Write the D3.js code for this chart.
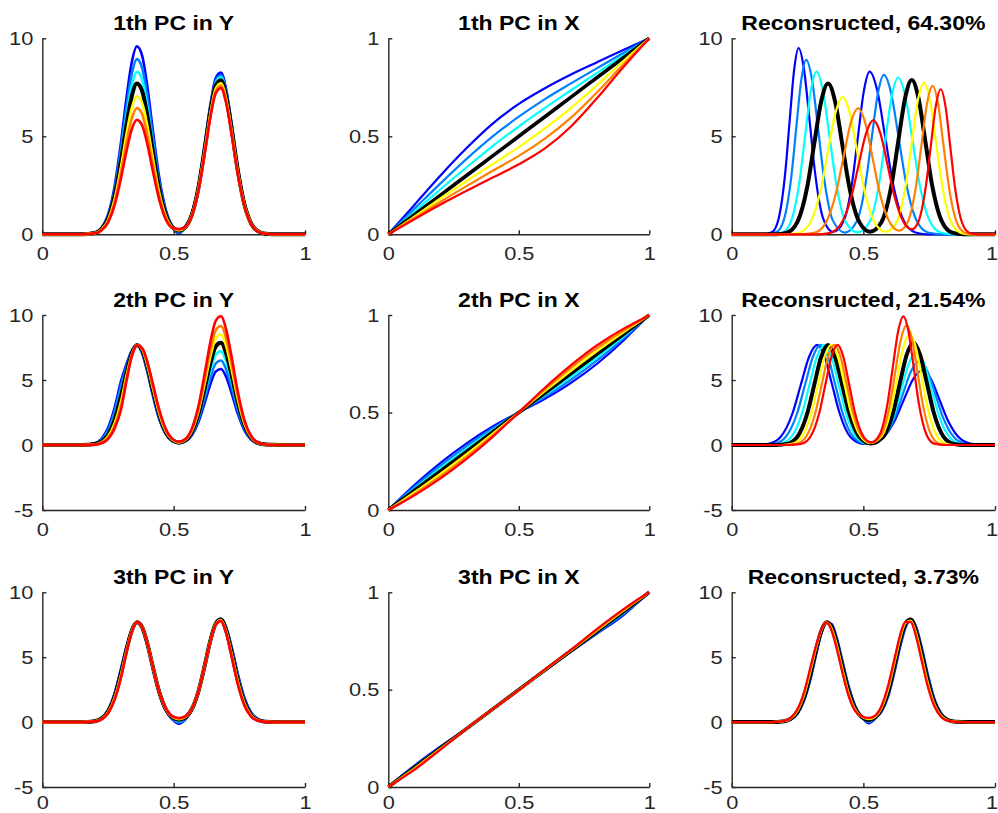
<!DOCTYPE html>
<html><head><meta charset="utf-8">
<script src="https://cdn.jsdelivr.net/npm/d3@7"></script>
<style>body{margin:0;background:#fff} svg{display:block}</style>
</head><body>
<svg id="chart" width="998" height="813"></svg>
<script>
// ---------------- DATA ----------------
const titles = [
  ["1th PC in Y", "1th PC in X", "Reconsructed, 64.30%"],
  ["2th PC in Y", "2th PC in X", "Reconsructed, 21.54%"],
  ["3th PC in Y", "3th PC in X", "Reconsructed, 3.73%"]
];
const seriesNames = ["-3sd", "-2sd", "-1sd", "mean", "+1sd", "+2sd", "+3sd"];
const xTicks = [0, 0.5, 1];
const yTicksAmpTop = [0, 5, 10];
const yTicksAmp = [-5, 0, 5, 10];
const yTicksWarp = [0, 0.5, 1];

// common x grid for the amplitude (Y) panels
const gridAmp = [0,.15,.2,.225,.25,.275,.3,.32,.34,.36,.38,.40,.42,.445,.47,.495,.52,.545,.57,.595,.62,.64,.66,.68,.70,.72,.745,.77,.795,.82,.85,.9,1];
// x grids for the warping (X) panels
const gridWarp1 = [0,.1,.2,.3,.4,.5,.6,.7,.8,.9,1];
const gridWarp = [0,.05,.1,.2,.3,.4,.5,.6,.7,.8,.9,.95,1];

const pc1Y = [
  [0,0,0.09,0.32,0.99,2.42,4.74,6.91,8.74,9.59,9.12,7.53,5.39,2.91,1.25,0.40,0.05,0.40,1.08,2.54,4.75,6.62,7.96,8.25,7.39,5.70,3.35,1.56,0.58,0.17,0.03,0,0],
  [0,0,0.08,0.30,0.92,2.25,4.42,6.44,8.15,8.94,8.49,7.02,5.02,2.71,1.16,0.41,0.10,0.38,1.06,2.50,4.66,6.50,7.82,8.11,7.27,5.60,3.29,1.54,0.57,0.17,0.03,0,0],
  [0,0,0.07,0.28,0.85,2.09,4.10,5.97,7.56,8.29,7.88,6.51,4.66,2.51,1.08,0.39,0.15,0.38,1.05,2.47,4.61,6.42,7.72,8.01,7.17,5.53,3.25,1.52,0.56,0.16,0.03,0,0],
  [0,0,0.07,0.26,0.79,1.94,3.80,5.54,7.01,7.69,7.31,6.04,4.32,2.33,1.00,0.37,0.19,0.37,1.03,2.42,4.52,6.30,7.58,7.86,7.04,5.43,3.19,1.49,0.55,0.16,0.03,0,0],
  [0,0,0.06,0.24,0.72,1.78,3.48,5.07,6.42,7.04,6.70,5.53,3.96,2.13,0.92,0.35,0.21,0.36,1.01,2.37,4.43,6.18,7.44,7.71,6.91,5.33,3.13,1.46,0.54,0.16,0.03,0,0],
  [0,0,0.06,0.22,0.66,1.63,3.18,4.64,5.87,6.44,6.13,5.06,3.62,1.95,0.84,0.33,0.24,0.36,0.99,2.34,4.36,6.08,7.31,7.58,6.79,5.24,3.08,1.44,0.53,0.15,0.03,0,0],
  [0,0,0.05,0.20,0.60,1.47,2.89,4.21,5.33,5.84,5.56,4.59,3.28,1.77,0.76,0.33,0.27,0.38,0.98,2.30,4.29,5.98,7.19,7.46,6.68,5.15,3.03,1.41,0.52,0.15,0.03,0,0]
];
const pc2Y = [
  [0,0,0.14,0.48,1.30,2.83,4.93,6.19,7.22,7.66,7.06,5.62,3.88,2.00,0.83,0.29,0.14,0.28,0.77,1.80,3.36,4.69,5.64,5.85,5.24,4.04,2.37,1.11,0.41,0.12,0.02,0,0],
  [0,0,0.12,0.41,1.13,2.55,4.60,6.02,7.17,7.68,7.13,5.75,4.00,2.10,0.88,0.32,0.16,0.31,0.85,2.00,3.74,5.21,6.27,6.50,5.82,4.49,2.64,1.23,0.45,0.13,0.02,0,0],
  [0,0,0.09,0.32,0.93,2.20,4.15,5.76,7.08,7.69,7.23,5.92,4.19,2.23,0.95,0.35,0.17,0.34,0.94,2.22,4.14,5.77,6.94,7.20,6.45,4.97,2.92,1.36,0.50,0.15,0.03,0,0],
  [0,0,0.07,0.26,0.79,1.94,3.80,5.54,7.01,7.69,7.31,6.04,4.32,2.33,1.00,0.37,0.19,0.37,1.03,2.42,4.52,6.30,7.58,7.86,7.04,5.43,3.19,1.49,0.55,0.16,0.03,0,0],
  [0,0,0.05,0.20,0.65,1.65,3.38,5.28,6.92,7.69,7.36,6.14,4.45,2.44,1.06,0.40,0.20,0.40,1.11,2.62,4.89,6.81,8.19,8.50,7.61,5.87,3.45,1.61,0.59,0.17,0.03,0,0],
  [0,0,0.04,0.17,0.55,1.44,3.06,5.07,6.85,7.68,7.40,6.26,4.60,2.57,1.14,0.43,0.23,0.43,1.20,2.82,5.26,7.33,8.82,9.15,8.19,6.32,3.71,1.73,0.64,0.19,0.03,0,0],
  [0,0,0.03,0.13,0.46,1.26,2.76,4.86,6.77,7.66,7.45,6.40,4.78,2.73,1.24,0.47,0.25,0.46,1.30,3.05,5.70,7.94,9.55,9.90,8.87,6.84,4.02,1.88,0.69,0.20,0.04,0,0]
];
const pc3Y = [
  [0,0,0.09,0.32,0.93,2.20,4.15,5.76,7.08,7.69,7.31,6.04,4.30,2.25,0.90,0.22,-0.12,0.22,0.95,2.40,4.52,6.32,7.62,7.95,7.30,5.85,3.65,1.85,0.75,0.25,0.05,0,0],
  [0,0,0.08,0.30,0.88,2.11,4.03,5.69,7.06,7.69,7.31,6.04,4.31,2.28,0.93,0.27,-0.02,0.27,0.98,2.41,4.52,6.31,7.61,7.93,7.21,5.71,3.50,1.73,0.68,0.22,0.04,0,0],
  [0,0,0.08,0.28,0.84,2.03,3.92,5.61,7.03,7.69,7.31,6.04,4.31,2.30,0.97,0.32,0.08,0.32,1.00,2.41,4.52,6.31,7.59,7.92,7.13,5.57,3.34,1.61,0.62,0.19,0.04,0,0],
  [0,0,0.07,0.26,0.79,1.94,3.80,5.54,7.01,7.69,7.31,6.04,4.32,2.33,1.00,0.37,0.19,0.37,1.03,2.42,4.52,6.30,7.58,7.90,7.04,5.43,3.19,1.49,0.55,0.16,0.03,0,0],
  [0,0,0.065,0.24,0.75,1.86,3.69,5.47,6.98,7.69,7.31,6.04,4.32,2.33,1.02,0.40,0.23,0.40,1.04,2.42,4.51,6.28,7.55,7.86,6.98,5.32,3.08,1.41,0.51,0.15,0.03,0,0],
  [0,0,0.06,0.22,0.72,1.78,3.57,5.39,6.96,7.70,7.31,6.04,4.32,2.33,1.03,0.42,0.27,0.42,1.04,2.42,4.51,6.27,7.53,7.82,6.92,5.22,2.96,1.33,0.47,0.14,0.02,0,0],
  [0,0,0.055,0.21,0.68,1.71,3.46,5.32,6.93,7.70,7.31,6.04,4.32,2.33,1.05,0.45,0.32,0.45,1.05,2.42,4.50,6.25,7.50,7.78,6.85,5.10,2.85,1.25,0.43,0.12,0.02,0,0]
];

const pc1X = [
  [0,.15,.30,.44,.565,.665,.745,.815,.878,.94,1],
  [0,.13,.26,.385,.50,.60,.69,.77,.848,.925,1],
  [0,.115,.23,.342,.45,.55,.645,.735,.824,.912,1],
  [0,.1,.2,.3,.4,.5,.6,.7,.8,.9,1],
  [0,.09,.183,.272,.358,.445,.54,.645,.762,.883,1],
  [0,.083,.166,.246,.324,.40,.488,.595,.725,.866,1],
  [0,.077,.152,.222,.29,.357,.438,.55,.695,.852,1]
];
const pc2X = [
  [0,.065,.128,.242,.342,.428,.50,.57,.652,.75,.868,.935,1],
  [0,.06,.119,.228,.328,.419,.50,.58,.668,.767,.879,.94,1],
  [0,.055,.109,.214,.314,.409,.50,.59,.684,.783,.889,.945,1],
  [0,.05,.1,.2,.3,.4,.5,.6,.7,.8,.9,.95,1],
  [0,.045,.091,.187,.287,.392,.50,.609,.714,.815,.91,.955,1],
  [0,.04,.083,.174,.274,.383,.50,.618,.729,.83,.919,.959,1],
  [0,.036,.075,.162,.262,.375,.50,.627,.743,.845,.929,.964,1]
];
const pc3X = [
  [0,.057,.11,.208,.30,.40,.50,.598,.695,.788,.882,.94,1],
  [0,.055,.107,.205,.30,.40,.50,.599,.697,.792,.888,.943,1],
  [0,.052,.103,.203,.30,.40,.50,.60,.698,.796,.894,.947,1],
  [0,.05,.1,.2,.3,.4,.5,.6,.7,.8,.9,.95,1],
  [0,.048,.096,.197,.30,.40,.499,.601,.702,.804,.904,.953,1],
  [0,.046,.093,.195,.30,.40,.498,.603,.703,.808,.908,.955,1],
  [0,.044,.088,.192,.30,.40,.497,.604,.705,.812,.912,.958,1]
];

// reconstructed functions, PC1 (x, y knots)
const rec1 = [
  [[0,0],[.12,0],[.152,.10],[.1775,.76],[.203,3.09],[.22,5.77],[.237,8.38],[.254,9.5],[.275,8.38],[.296,5.77],[.317,3.09],[.3485,.76],[.385,.12],[.425,.66],[.458,2.70],[.48,5.04],[.502,7.32],[.524,8.3],[.553,7.32],[.582,5.04],[.611,2.70],[.6545,.66],[.698,.09],[.74,0],[1,0]],
  [[0,0],[.13,0],[.169,.10],[.1975,.71],[.226,2.89],[.245,5.40],[.264,7.85],[.283,8.9],[.3055,7.85],[.328,5.40],[.3505,2.89],[.384,.71],[.43,.09],[.4745,.65],[.509,2.64],[.532,4.93],[.555,7.17],[.578,8.13],[.606,7.17],[.634,4.93],[.662,2.64],[.704,.65],[.746,.09],[.8,0],[1,0]],
  [[0,0],[.15,0],[.193,.09],[.2252,.66],[.2575,2.70],[.279,5.04],[.3005,7.32],[.322,8.3],[.3465,7.32],[.371,5.04],[.3955,2.70],[.432,.66],[.478,.10],[.524,.64],[.56,2.60],[.584,4.86],[.608,7.06],[.632,8.0],[.659,7.06],[.686,4.86],[.713,2.60],[.7535,.64],[.794,.09],[.84,0],[1,0]],
  [[0,0],[.17,0],[.21,.085],[.249,.62],[.288,2.50],[.314,4.67],[.34,6.79],[.366,7.7],[.3925,6.79],[.419,4.67],[.4455,2.50],[.485,.62],[.525,.13],[.569,.63],[.6075,2.56],[.633,4.78],[.6585,6.94],[.684,7.87],[.7095,6.94],[.735,4.78],[.7605,2.56],[.799,.63],[.837,.087],[.88,0],[1,0]],
  [[0,0],[.21,0],[.256,.077],[.297,.56],[.3385,2.28],[.366,4.25],[.3935,6.17],[.421,7.0],[.4485,6.17],[.476,4.25],[.5035,2.28],[.545,.56],[.585,.13],[.6265,.62],[.661,2.52],[.684,4.70],[.707,6.83],[.73,7.74],[.753,6.83],[.776,4.70],[.799,2.52],[.8335,.62],[.868,.085],[.9,0],[1,0]],
  [[0,0],[.26,0],[.312,.07],[.354,.51],[.396,2.09],[.424,3.90],[.452,5.67],[.48,6.43],[.5075,5.67],[.535,3.90],[.5625,2.09],[.604,.52],[.636,.19],[.6685,.63],[.70,2.46],[.721,4.59],[.742,6.68],[.763,7.57],[.7835,6.68],[.804,4.59],[.8245,2.46],[.855,.61],[.886,.083],[.92,0],[1,0]],
  [[0,0],[.32,0],[.37,.064],[.412,.47],[.454,1.89],[.482,3.54],[.51,5.14],[.538,5.83],[.565,5.14],[.592,3.54],[.619,1.89],[.6595,.48],[.685,.26],[.7085,.63],[.737,2.41],[.756,4.49],[.775,6.53],[.794,7.4],[.812,6.53],[.83,4.49],[.848,2.41],[.875,.59],[.902,.08],[.94,0],[1,0]]
];
// reconstructed functions, PC2 (x, y knots)
const rec2 = [
  [[0,0],[.1,0],[.139,.085],[.1855,.62],[.232,2.5],[.263,4.67],[.294,6.79],[.325,7.7],[.353,6.79],[.381,4.67],[.409,2.5],[.451,.62],[.50,.09],[.5665,.46],[.619,1.87],[.654,3.49],[.689,5.07],[.724,5.75],[.7565,5.07],[.789,3.49],[.8215,1.87],[.87,.46],[.919,.063],[.96,0],[1,0]],
  [[0,0],[.12,0],[.161,.085],[.205,.62],[.2495,2.5],[.279,4.67],[.3085,6.79],[.338,7.7],[.3655,6.79],[.393,4.67],[.4205,2.5],[.462,.62],[.51,.10],[.571,.52],[.6185,2.10],[.65,3.92],[.6815,5.69],[.713,6.45],[.743,5.69],[.773,3.92],[.803,2.10],[.848,.52],[.893,.071],[.93,0],[1,0]],
  [[0,0],[.14,0],[.184,.085],[.226,.62],[.268,2.5],[.296,4.67],[.324,6.79],[.352,7.7],[.379,6.79],[.406,4.67],[.433,2.5],[.4735,.62],[.52,.10],[.574,.57],[.6165,2.32],[.645,4.34],[.6735,6.31],[.702,7.15],[.73,6.31],[.758,4.34],[.786,2.32],[.828,.57],[.87,.079],[.91,0],[1,0]],
  [[0,0],[.17,0],[.21,.085],[.249,.62],[.288,2.5],[.314,4.67],[.34,6.79],[.366,7.7],[.3925,6.79],[.419,4.67],[.4455,2.5],[.485,.62],[.528,.12],[.575,.63],[.6135,2.56],[.639,4.78],[.6645,6.94],[.69,7.87],[.7155,6.94],[.741,4.78],[.7665,2.56],[.805,.63],[.843,.087],[.88,0],[1,0]],
  [[0,0],[.19,0],[.228,.085],[.2655,.62],[.303,2.5],[.328,4.67],[.353,6.79],[.378,7.7],[.403,6.79],[.428,4.67],[.453,2.5],[.4905,.62],[.525,.15],[.57,.68],[.6055,2.78],[.629,5.19],[.6525,7.54],[.676,8.55],[.699,7.54],[.722,5.19],[.745,2.78],[.7795,.68],[.814,.094],[.85,0],[1,0]],
  [[0,0],[.2,0],[.246,.085],[.282,.62],[.318,2.5],[.342,4.67],[.366,6.79],[.39,7.7],[.4135,6.79],[.437,4.67],[.4605,2.5],[.496,.62],[.53,.16],[.567,.74],[.5995,2.99],[.621,5.58],[.6425,8.11],[.664,9.2],[.685,8.11],[.706,5.58],[.727,2.99],[.7585,.74],[.79,.10],[.83,0],[1,0]],
  [[0,0],[.22,0],[.264,.085],[.2985,.62],[.333,2.5],[.356,4.67],[.379,6.79],[.402,7.7],[.424,6.79],[.446,4.67],[.468,2.5],[.501,.63],[.53,.20],[.562,.80],[.592,3.22],[.612,6.01],[.632,8.73],[.652,9.9],[.6715,8.73],[.691,6.01],[.7105,3.22],[.74,.79],[.769,.11],[.81,0],[1,0]]
];
// reconstructed functions, PC3 (on gridAmp)
const rec3 = [
  [0,0,0.05,0.20,0.63,1.63,3.32,5.10,6.75,7.65,7.55,6.45,4.80,2.75,1.22,0.35,-0.10,0.25,0.82,2.00,3.98,5.78,7.25,7.92,7.40,5.95,3.70,1.80,0.72,0.22,0.05,0,0],
  [0,0,0.06,0.22,0.68,1.73,3.48,5.25,6.84,7.66,7.47,6.31,4.64,2.61,1.15,0.36,0.00,0.29,0.89,2.14,4.16,5.95,7.36,7.91,7.28,5.78,3.53,1.70,0.66,0.20,0.04,0,0],
  [0,0,0.06,0.24,0.74,1.84,3.64,5.39,6.92,7.68,7.39,6.18,4.48,2.47,1.07,0.36,0.07,0.33,0.96,2.28,4.34,6.13,7.47,7.90,7.16,5.60,3.36,1.59,0.61,0.18,0.04,0,0],
  [0,0,0.07,0.26,0.79,1.94,3.80,5.54,7.01,7.69,7.31,6.04,4.32,2.33,1.00,0.37,0.15,0.37,1.03,2.42,4.52,6.30,7.58,7.90,7.04,5.43,3.19,1.49,0.55,0.16,0.03,0,0],
  [0,0,0.08,0.29,0.86,2.07,3.97,5.65,7.05,7.69,7.21,5.88,4.15,2.20,0.94,0.40,0.23,0.41,1.12,2.58,4.70,6.45,7.63,7.82,6.89,5.24,3.03,1.39,0.51,0.14,0.03,0,0],
  [0,0,0.09,0.32,0.93,2.20,4.15,5.76,7.08,7.68,7.10,5.71,3.99,2.08,0.88,0.42,0.28,0.46,1.21,2.74,4.87,6.60,7.68,7.76,6.75,5.04,2.86,1.30,0.46,0.13,0.02,0,0],
  [0,0,0.10,0.35,1.00,2.33,4.32,5.87,7.12,7.68,7.00,5.55,3.82,1.95,0.82,0.45,0.32,0.50,1.30,2.90,5.05,6.75,7.72,7.70,6.60,4.85,2.70,1.20,0.42,0.11,0.02,0,0]
];

// ---------------- STYLE / LAYOUT ----------------
const COLORS = ["#0000ff", "#0080ff", "#00ffff", "#000000", "#ffff00", "#ff8000", "#ff0000"];
const AXIS = "#262626";
const FONT = '"Liberation Sans", Arial, Helvetica, sans-serif';
const colX = [[42.3, 305], [388.3, 649.3], [731.7, 995]];
const rowY = [[38.3, 234.3], [315, 510], [592.3, 787]];
const xLabelPad = [12.5, 12.5, 8.8];
const lineW = [2.6, 2.2, 2.2];
const meanW = [4.0, 3.6, 4.0];

const zip = (xs, ys) => xs.map((x, i) => [x, ys[i]]);
const onGrid = (grid, set) => set.map(ys => zip(grid, ys));

const panels = [
  {r:0, c:0, yd:[0,10], yt:yTicksAmpTop, series:onGrid(gridAmp, pc1Y)},
  {r:0, c:1, yd:[0,1], yt:yTicksWarp, series:onGrid(gridWarp1, pc1X)},
  {r:0, c:2, yd:[0,10], yt:yTicksAmpTop, series:rec1},
  {r:1, c:0, yd:[-5,10], yt:yTicksAmp, series:onGrid(gridAmp, pc2Y)},
  {r:1, c:1, yd:[0,1], yt:yTicksWarp, series:onGrid(gridWarp, pc2X)},
  {r:1, c:2, yd:[-5,10], yt:yTicksAmp, series:rec2},
  {r:2, c:0, yd:[-5,10], yt:yTicksAmp, series:onGrid(gridAmp, pc3Y)},
  {r:2, c:1, yd:[0,1], yt:yTicksWarp, series:onGrid(gridWarp, pc3X)},
  {r:2, c:2, yd:[-5,10], yt:yTicksAmp, series:onGrid(gridAmp, rec3)}
];

const svg = d3.select("#chart");
svg.append("rect").attr("width", 998).attr("height", 813).attr("fill", "#fff");
const fmt = d => String(d);

panels.forEach(p => {
  const [x0, x1] = colX[p.c], [y0, y1] = rowY[p.r];
  const xs = d3.scaleLinear().domain([0, 1]).range([x0, x1]);
  const ys = d3.scaleLinear().domain(p.yd).range([y1, y0]);
  const g = svg.append("g");

  const ax = g.append("g").attr("transform", `translate(0,${y1})`)
    .call(d3.axisBottom(xs).tickValues(xTicks).tickFormat(fmt).tickSizeInner(-4).tickSizeOuter(0).tickPadding(xLabelPad[p.r]));
  const ay = g.append("g").attr("transform", `translate(${x0},0)`)
    .call(d3.axisLeft(ys).tickValues(p.yt).tickFormat(fmt).tickSizeInner(-4).tickSizeOuter(0).tickPadding(7.8));
  [ax, ay].forEach(a => {
    a.attr("font-family", FONT).attr("font-size", 18.8);
    a.select(".domain").attr("stroke", AXIS).attr("stroke-width", 1.4);
    a.selectAll(".tick line").attr("stroke", AXIS).attr("stroke-width", 1.4);
    a.selectAll(".tick text").attr("fill", AXIS).attr("transform", "scale(1.16,1)");
  });
  // keep the right-most label of the last column inside the page
  if (p.c === 2) ax.selectAll(".tick text").filter(d => d === 1).attr("dx", -3);

  const line = d3.line().x(d => xs(d[0])).y(d => ys(d[1])).curve(d3.curveMonotoneX);
  p.series.forEach((pts, i) => {
    g.append("path").attr("d", line(pts))
      .attr("fill", "none")
      .attr("stroke", COLORS[i])
      .attr("stroke-width", i === 3 ? meanW[p.c] : lineW[p.c])
      .attr("stroke-linejoin", "round");
  });

  g.append("text")
    .attr("transform", `translate(${(x0 + x1) / 2},${y0 - 8}) scale(1.15,1)`)
    .attr("text-anchor", "middle")
    .attr("font-family", FONT).attr("font-weight", "bold").attr("font-size", 20)
    .attr("fill", "#000")
    .text(titles[p.r][p.c]);
});
</script>
</body></html>
